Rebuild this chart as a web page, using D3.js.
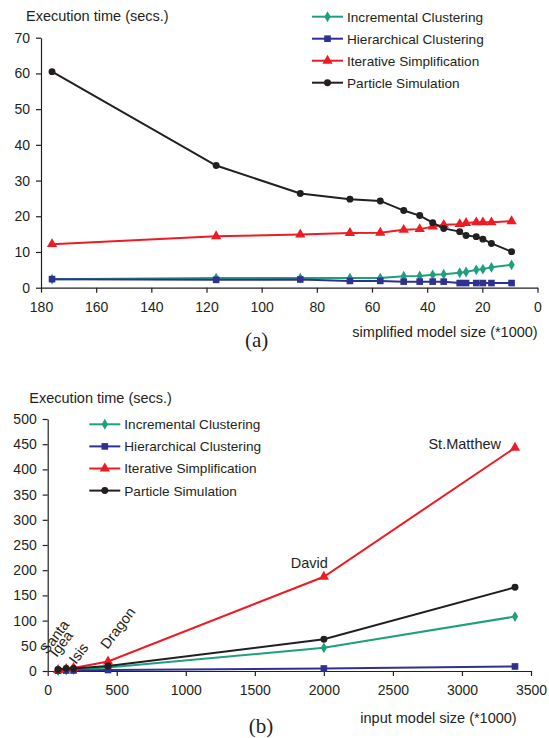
<!DOCTYPE html>
<html>
<head>
<meta charset="utf-8">
<script src="https://cdn.jsdelivr.net/npm/d3@7"></script>
<style>
  body { margin: 0; background: #fff; }
  svg { display: block; font-family: "Liberation Sans", Arial, sans-serif; }
</style>
</head>
<body>
<div id="chart"></div>
<script>
// panel (a): simplified model size (*1000) vs execution time
const sizesA = [176, 116.5, 86, 68, 57, 48.5, 42.7, 38, 34, 28.2, 25.9, 22.2, 19.8, 16.7, 9.4];
const incrementalA = [2.4, 2.7, 2.7, 2.7, 2.7, 3.2, 3.3, 3.6, 3.8, 4.2, 4.4, 5.0, 5.2, 5.7, 6.4];
const hierarchicalA = [2.4, 2.2, 2.3, 1.9, 1.9, 1.7, 1.7, 1.7, 1.7, 1.3, 1.3, 1.3, 1.3, 1.3, 1.3];
const iterativeA = [12.2, 14.4, 14.9, 15.3, 15.4, 16.2, 16.4, 17.1, 17.6, 17.8, 18.1, 18.3, 18.3, 18.3, 18.6];
const particleA = [60.5, 34.2, 26.4, 24.8, 24.3, 21.6, 20.2, 18.2, 16.6, 15.7, 14.6, 14.3, 13.6, 12.4, 10.1];
const xTicksA = [180, 160, 140, 120, 100, 80, 60, 40, 20, 0];
const yTicksA = [0, 10, 20, 30, 40, 50, 60, 70];

// panel (b): input model size (*1000) vs execution time
const modelsB = ['Santa', 'Igea', 'Isis', 'Dragon', 'David', 'St.Matthew'];
const sizesB = [75, 134, 187, 437, 2000, 3384];
const incrementalB = [1, 2, 3, 7, 46, 108];
const hierarchicalB = [0.5, 1, 1, 2, 5, 9];
const iterativeB = [2, 4, 6, 19, 187, 443];
const particleB = [3, 5, 5, 10, 63, 166];
const xTicksB = [0, 500, 1000, 1500, 2000, 2500, 3000, 3500];
const yTicksB = [0, 50, 100, 150, 200, 250, 300, 350, 400, 450, 500];

const seriesNames = ['Incremental Clustering', 'Hierarchical Clustering', 'Iterative Simplification', 'Particle Simulation'];

const INK = '#231f20';
const TEXT_SIZE = 14.5;    // axis titles and annotations
const LEGEND_SIZE = 13.6;
const TICK_SIZE = 14;
const styles = [
  { color: '#1fa07c', symbol: d3.symbolDiamond, size: 34 },
  { color: '#2e3192', symbol: d3.symbolSquare, size: 44 },
  { color: '#ed1c24', symbol: d3.symbolTriangle, size: 46 },
  { color: INK, symbol: d3.symbolCircle, size: 38 }
];

const svg = d3.select('#chart').append('svg')
  .attr('width', 549)
  .attr('height', 738);

function label(g, txt, x, y, opts = {}) {
  const t = g.append('text')
    .attr('transform', `translate(${x},${y})` + (opts.rotate ? ` rotate(${opts.rotate})` : ''))
    .attr('font-size', opts.size || TEXT_SIZE)
    .attr('fill', INK)
    .attr('text-anchor', opts.anchor || 'start')
    .text(txt);
  if (opts.family) t.attr('font-family', opts.family);
  return t;
}

function drawAxes(g, x, y, xTicks, yTicks) {
  const xAxis = g.append('g')
    .attr('transform', `translate(0,${y.range()[0]})`)
    .call(d3.axisBottom(x).tickValues(xTicks).tickFormat(d3.format('d'))
      .tickSize(5).tickSizeOuter(0).tickPadding(9.5));
  const yAxis = g.append('g')
    .attr('transform', `translate(${x.range()[0]},0)`)
    .call(d3.axisLeft(y).tickValues(yTicks).tickFormat(d3.format('d'))
      .tickSize(5).tickSizeOuter(0).tickPadding(6));

  [xAxis, yAxis].forEach(a => {
    a.select('.domain').attr('stroke', INK).attr('stroke-width', 1.2);
    a.selectAll('.tick line').attr('stroke', INK).attr('stroke-width', 1.2);
    a.selectAll('.tick text')
      .attr('fill', INK)
      .attr('font-size', TICK_SIZE)
      .attr('font-family', '"Liberation Sans", Arial, sans-serif');
  });
}

function drawSeries(g, x, y, sizes, valueArrays) {
  const line = d3.line().x(d => x(d[0])).y(d => y(d[1]));
  valueArrays.forEach((vals, i) => {
    const pts = sizes.map((s, j) => [s, vals[j]]);
    const st = styles[i];
    g.append('path')
      .datum(pts)
      .attr('fill', 'none')
      .attr('stroke', st.color)
      .attr('stroke-width', 2)
      .attr('d', line);
    g.selectAll(null)
      .data(pts)
      .enter()
      .append('path')
      .attr('transform', d => `translate(${x(d[0])},${y(d[1])})`)
      .attr('d', d3.symbol().type(st.symbol).size(st.size))
      .attr('fill', st.color);
  });
}

function drawLegend(g, x0, y0, step) {
  seriesNames.forEach((name, i) => {
    const st = styles[i];
    const cy = y0 + i * step;
    g.append('line')
      .attr('x1', x0).attr('x2', x0 + 31)
      .attr('y1', cy).attr('y2', cy)
      .attr('stroke', st.color)
      .attr('stroke-width', 2);
    g.append('path')
      .attr('transform', `translate(${x0 + 15.5},${cy})`)
      .attr('d', d3.symbol().type(st.symbol).size(st.size))
      .attr('fill', st.color);
    label(g, name, x0 + 35, cy + 4.9, { size: LEGEND_SIZE });
  });
}

// ---- panel (a)
const gA = svg.append('g');
const xA = d3.scaleLinear().domain([180, 0]).range([41, 537.5]);
const yA = d3.scaleLinear().domain([0, 70]).range([287.7, 37.7]);

drawAxes(gA, xA, yA, xTicksA, yTicksA);
drawSeries(gA, xA, yA, sizesA, [incrementalA, hierarchicalA, iterativeA, particleA]);
drawLegend(gA, 312, 16.7, 22);
label(gA, 'Execution time (secs.)', 26, 20.5);
label(gA, 'simplified model size (*1000)', 537.7, 336.7, { anchor: 'end' });
label(gA, '(a)', 256.7, 347, { anchor: 'middle', size: 21, family: '"Liberation Serif", "Times New Roman", serif' });

// ---- panel (b)
const gB = svg.append('g');
const xB = d3.scaleLinear().domain([0, 3500]).range([47.7, 531]);
const yB = d3.scaleLinear().domain([0, 500]).range([671, 419]);

drawAxes(gB, xB, yB, xTicksB, yTicksB);
drawSeries(gB, xB, yB, sizesB, [incrementalB, hierarchicalB, iterativeB, particleB]);
drawLegend(gB, 89.3, 424.3, 22.1);
label(gB, 'Execution time (secs.)', 29.3, 403);
label(gB, 'input model size (*1000)', 516.7, 723.3, { anchor: 'end' });
label(gB, '(b)', 261, 733, { anchor: 'middle', size: 21, family: '"Liberation Serif", "Times New Roman", serif' });

// model name annotations, offset from each model's x position
const modelLabelOffsets = [
  { dx: -11, dy: -16, rotate: -53 },
  { dx: -9.5, dy: -13, rotate: -53 },
  { dx: 2.5, dy: -6, rotate: -53 },
  { dx: -0.5, dy: -21, rotate: -53 },
  { dx: 4, dy: -8.5, anchor: 'end', ref: 'iter' },
  { dx: -14, dy: 1.5, anchor: 'end', ref: 'iter' }
];
modelsB.forEach((m, i) => {
  const o = modelLabelOffsets[i];
  const px = xB(sizesB[i]) + o.dx;
  const py = (o.ref === 'iter' ? yB(iterativeB[i]) : yB(0)) + o.dy;
  label(gB, m, px, py, { rotate: o.rotate, anchor: o.anchor });
});
</script>
</body>
</html>
